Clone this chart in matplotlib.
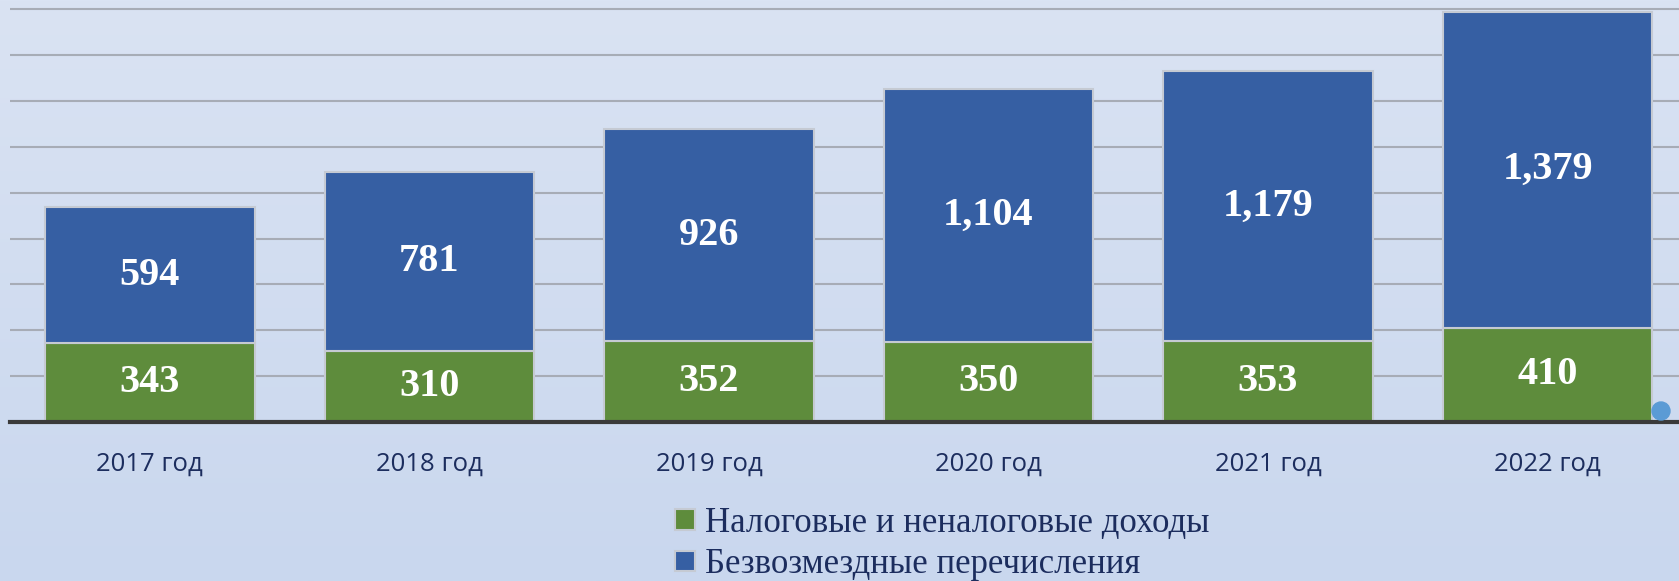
import numpy as np
import matplotlib.pyplot as plt
from matplotlib.patches import Ellipse
from matplotlib.colors import LinearSegmentedColormap

years = ['2017 год', '2018 год', '2019 год', '2020 год', '2021 год', '2022 год']
nalog = [343, 310, 352, 350, 353, 410]      # Налоговые и неналоговые доходы
bezvozm = [594, 781, 926, 1104, 1179, 1379]  # Безвозмездные перечисления

green = '#5e8c3c'
blue = '#365fa3'
navy = '#1c2d5e'

fig = plt.figure(figsize=(16.79, 5.81), dpi=100)

# фон - вертикальный градиент
bg = fig.add_axes([0, 0, 1, 1], zorder=-10)
grad = np.linspace(0, 1, 256).reshape(-1, 1)
cm = LinearSegmentedColormap.from_list('bg', ['#dae3f3', '#c9d7ee'])
bg.imshow(grad, aspect='auto', cmap=cm, extent=[0, 1, 0, 1])
bg.axis('off')

ax = fig.add_axes([0.006, 0.2737, 0.994, 0.7263])
ax.set_facecolor('none')
x = np.arange(len(years))
w = 0.75

b1 = ax.bar(x, nalog, w, color=green, edgecolor='#c5cad3', linewidth=1.5, zorder=3,
            label='Налоговые и неналоговые доходы')
b2 = ax.bar(x, bezvozm, w, bottom=nalog, color=blue, edgecolor='#c5cad3', linewidth=1.5,
            zorder=3, label='Безвозмездные перечисления')

for i in range(len(years)):
    ax.text(x[i], nalog[i] / 2, f'{nalog[i]:,}', ha='center', va='center', color='white',
            fontsize=29, fontweight='bold', family='Liberation Serif', zorder=4)
    ax.text(x[i], nalog[i] + bezvozm[i] / 2, f'{bezvozm[i]:,}', ha='center', va='center',
            color='white', fontsize=29, fontweight='bold', family='Liberation Serif', zorder=4)

ax.set_xlim(-0.5, 5.47)
ax.set_ylim(0, 1840)
ax.set_yticks(np.arange(0, 1801, 200))
ax.yaxis.grid(True, color='#a7acb6', linewidth=1.5, zorder=0)
ax.set_axisbelow(True)
ax.tick_params(left=False, labelleft=False, bottom=False)
for s in ['top', 'right', 'left']:
    ax.spines[s].set_visible(False)
ax.spines['bottom'].set_color('#3a3a3a')
ax.spines['bottom'].set_linewidth(3)
ax.spines['bottom'].set_zorder(5)
ax.set_xticks(x)
ax.set_xticklabels(years, fontsize=18.5, color=navy, family='Open Sans')
ax.tick_params(axis='x', pad=18)

leg = fig.legend(handles=[b1, b2], loc='upper left', bbox_to_anchor=(0.394, 0.152),
                 borderaxespad=0, frameon=False,
                 prop={'family': 'Liberation Serif', 'size': 25},
                 handlelength=0.55, handleheight=0.55, handletextpad=0.3, labelspacing=0.25)
for t in leg.get_texts():
    t.set_color(navy)

# декоративная точка справа
fig.patches.append(Ellipse((1661 / 1679, 1 - 411 / 581), 18 / 1679, 18 / 581,
                           transform=fig.transFigure, color='#5b9bd5', zorder=10))

fig.savefig('out.png', dpi=100)
